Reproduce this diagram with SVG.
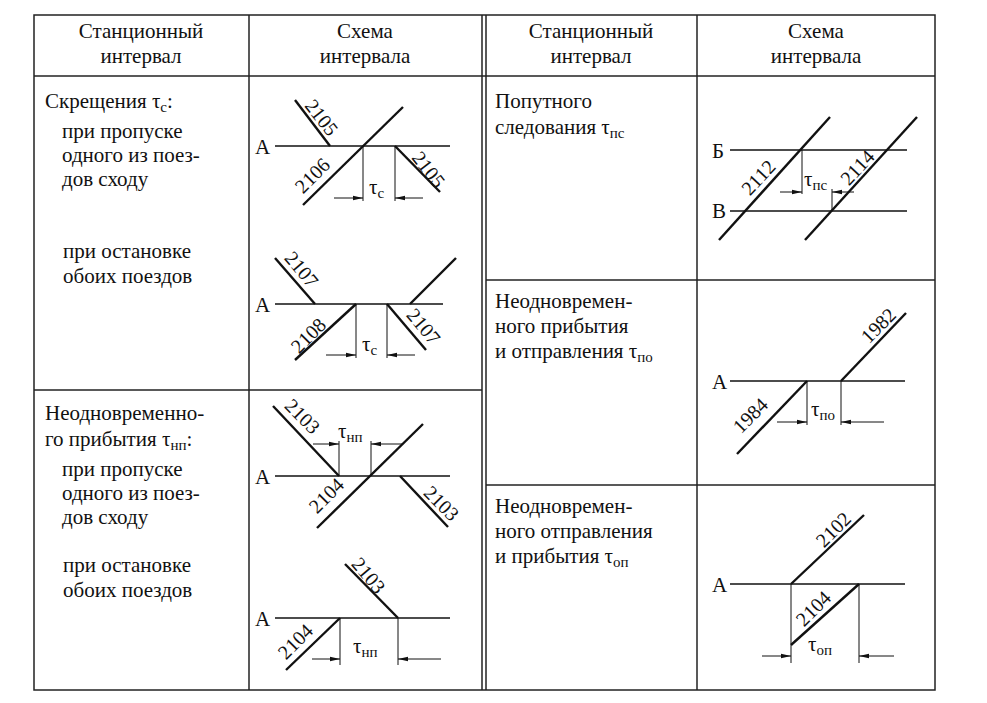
<svg xmlns="http://www.w3.org/2000/svg" width="987" height="703" viewBox="0 0 987 703" font-family="'Liberation Serif','DejaVu Serif',serif">
<style>
text{font-family:'Liberation Serif','DejaVu Serif',serif;font-size:21px;fill:#111}
.h{text-anchor:middle}
.n{font-size:20px;text-anchor:middle}
.s{font-size:15px}
.g{fill:none;stroke:#111;stroke-width:1.4}
.t{fill:none;stroke:#111;stroke-width:2.4}
.b{fill:none;stroke:#222;stroke-width:1.5}
.d{fill:none;stroke:#111;stroke-width:1}
</style>
<defs>
<marker id="ar" markerWidth="10" markerHeight="6" refX="10" refY="3" orient="auto" markerUnits="userSpaceOnUse"><path d="M0,0.8 L10,3 L0,5.2z" fill="#111"/></marker>
</defs>
<rect width="987" height="703" fill="#fff"/>
<g id="table" class="b">
<rect x="34" y="15" width="901" height="675"/>
<line x1="34" y1="76" x2="935" y2="76"/>
<line x1="249" y1="15" x2="249" y2="690"/>
<line x1="482" y1="15" x2="482" y2="690"/>
<line x1="486" y1="15" x2="486" y2="690"/>
<line x1="697" y1="15" x2="697" y2="690"/>
<line x1="34" y1="390" x2="482" y2="390"/>
<line x1="486" y1="280" x2="935" y2="280"/>
<line x1="486" y1="485" x2="935" y2="485"/>
</g>
<g id="headers">
<text class="h" x="141" y="38">Станционный</text><text class="h" x="141" y="63">интервал</text>
<text class="h" x="365" y="38">Схема</text><text class="h" x="365" y="63">интервала</text>
<text class="h" x="591" y="38">Станционный</text><text class="h" x="591" y="63">интервал</text>
<text class="h" x="816" y="38">Схема</text><text class="h" x="816" y="63">интервала</text>
</g>
<g id="text-left">
<text x="45" y="108">Скрещения τ<tspan class="s" dy="4">с</tspan><tspan dy="-4">:</tspan></text>
<text x="62" y="138">при пропуске</text>
<text x="62" y="162">одного из поез-</text>
<text x="62" y="186">дов сходу</text>
<text x="63" y="258">при остановке</text>
<text x="63" y="283">обоих поездов</text>
<text x="45" y="420">Неодновременно-</text>
<text x="45" y="446">го прибытия τ<tspan class="s" dy="4">нп</tspan><tspan dy="-4">:</tspan></text>
<text x="62" y="476">при пропуске</text>
<text x="62" y="500">одного из поез-</text>
<text x="62" y="524">дов сходу</text>
<text x="63" y="572">при остановке</text>
<text x="63" y="597">обоих поездов</text>
</g>
<g id="text-right">
<text x="495" y="108">Попутного</text>
<text x="495" y="134">следования τ<tspan class="s" dy="4">пс</tspan></text>
<text x="495" y="308">Неодновремен-</text>
<text x="495" y="333">ного прибытия</text>
<text x="495" y="358">и отправления τ<tspan class="s" dy="4">по</tspan></text>
<text x="495" y="513">Неодновремен-</text>
<text x="495" y="538">ного отправления</text>
<text x="495" y="563">и прибытия  τ<tspan class="s" dy="4">оп</tspan></text>
</g>
<g id="scheme-c1">
<text x="255" y="154">А</text>
<line class="g" x1="275" y1="146" x2="450" y2="146"/>
<line class="t" x1="295" y1="100" x2="330" y2="146"/>
<line class="t" x1="303" y1="205" x2="403" y2="107"/>
<line class="t" x1="395" y1="146" x2="440" y2="192"/>
<line class="d" x1="363" y1="146" x2="363" y2="201"/>
<line class="d" x1="395" y1="146" x2="395" y2="201"/>
<line class="d" x1="334" y1="198" x2="363" y2="198" marker-end="url(#ar)"/>
<line class="d" x1="423" y1="198" x2="395" y2="198" marker-end="url(#ar)"/>
<text x="369" y="194">τ<tspan class="s" dy="4">с</tspan></text>
<text class="n" transform="translate(321,118) rotate(52)" y="6">2105</text>
<text class="n" transform="translate(313,176) rotate(-45)" y="6">2106</text>
<text class="n" transform="translate(428,170) rotate(52)" y="6">2105</text>
</g>
<g id="scheme-c2">
<text x="255" y="312">А</text>
<line class="g" x1="275" y1="304" x2="443" y2="304"/>
<line class="t" x1="275" y1="258" x2="315" y2="304"/>
<line class="t" x1="295" y1="360" x2="356" y2="304"/>
<line class="t" x1="387" y1="304" x2="426" y2="350"/>
<line class="t" x1="410" y1="304" x2="456" y2="258"/>
<line class="d" x1="356" y1="304" x2="356" y2="358"/>
<line class="d" x1="387" y1="304" x2="387" y2="358"/>
<line class="d" x1="326" y1="355" x2="356" y2="355" marker-end="url(#ar)"/>
<line class="d" x1="415" y1="355" x2="387" y2="355" marker-end="url(#ar)"/>
<text x="362" y="351">τ<tspan class="s" dy="4">с</tspan></text>
<text class="n" transform="translate(301,270) rotate(50)" y="6">2107</text>
<text class="n" transform="translate(309,336) rotate(-45)" y="6">2108</text>
<text class="n" transform="translate(423,327) rotate(50)" y="6">2107</text>
</g>
<g id="scheme-np1">
<text x="255" y="484">А</text>
<line class="g" x1="275" y1="476" x2="450" y2="476"/>
<line class="t" x1="273" y1="406" x2="339" y2="476"/>
<line class="t" x1="317" y1="528" x2="423" y2="424"/>
<line class="t" x1="400" y1="476" x2="448" y2="527"/>
<line class="d" x1="339" y1="441" x2="339" y2="476"/>
<line class="d" x1="371" y1="441" x2="371" y2="476"/>
<line class="d" x1="313" y1="444" x2="339" y2="444" marker-end="url(#ar)"/>
<line class="d" x1="402" y1="444" x2="371" y2="444" marker-end="url(#ar)"/>
<text x="338" y="438">τ<tspan class="s" dy="4">нп</tspan></text>
<text class="n" transform="translate(302,417) rotate(45)" y="6">2103</text>
<text class="n" transform="translate(327,496) rotate(-45)" y="6">2104</text>
<text class="n" transform="translate(441,504) rotate(45)" y="6">2103</text>
</g>
<g id="scheme-np2">
<text x="255" y="626">А</text>
<line class="g" x1="275" y1="618" x2="450" y2="618"/>
<line class="t" x1="286" y1="670" x2="340" y2="618"/>
<line class="t" x1="345" y1="564" x2="398" y2="618"/>
<line class="d" x1="340" y1="618" x2="340" y2="665"/>
<line class="d" x1="398" y1="618" x2="398" y2="665"/>
<line class="d" x1="312" y1="659" x2="340" y2="659" marker-end="url(#ar)"/>
<line class="d" x1="441" y1="659" x2="398" y2="659" marker-end="url(#ar)"/>
<text x="353" y="653">τ<tspan class="s" dy="4">нп</tspan></text>
<text class="n" transform="translate(368,576) rotate(50)" y="6">2103</text>
<text class="n" transform="translate(296,642) rotate(-45)" y="6">2104</text>
</g>
<g id="scheme-pc">
<text x="712" y="158">Б</text>
<text x="712" y="218">В</text>
<line class="g" x1="730" y1="150" x2="907" y2="150"/>
<line class="g" x1="730" y1="211" x2="907" y2="211"/>
<line class="t" x1="719" y1="240" x2="830" y2="117"/>
<line class="t" x1="805" y1="240" x2="917" y2="117"/>
<line class="d" x1="802" y1="150" x2="802" y2="194"/>
<line class="d" x1="832" y1="189" x2="832" y2="211"/>
<line class="d" x1="780" y1="192" x2="802" y2="192" marker-end="url(#ar)"/>
<line class="d" x1="854" y1="192" x2="832" y2="192" marker-end="url(#ar)"/>
<text x="804" y="186">τ<tspan class="s" dy="4">пс</tspan></text>
<text class="n" transform="translate(759,178) rotate(-47)" y="6">2112</text>
<text class="n" transform="translate(858,168) rotate(-47)" y="6">2114</text>
</g>
<g id="scheme-po">
<text x="712" y="389">А</text>
<line class="g" x1="730" y1="381" x2="905" y2="381"/>
<line class="t" x1="737" y1="454" x2="807" y2="381"/>
<line class="t" x1="841" y1="381" x2="906" y2="313"/>
<line class="d" x1="807" y1="381" x2="807" y2="425"/>
<line class="d" x1="841" y1="381" x2="841" y2="425"/>
<line class="d" x1="777" y1="422" x2="807" y2="422" marker-end="url(#ar)"/>
<line class="d" x1="884" y1="422" x2="841" y2="422" marker-end="url(#ar)"/>
<text x="811" y="416">τ<tspan class="s" dy="4">по</tspan></text>
<text class="n" transform="translate(751,416) rotate(-45)" y="6">1984</text>
<text class="n" transform="translate(879,326) rotate(-45)" y="6">1982</text>
</g>
<g id="scheme-op">
<text x="712" y="592">А</text>
<line class="g" x1="730" y1="584" x2="905" y2="584"/>
<line class="t" x1="791" y1="584" x2="864" y2="515"/>
<line class="t" x1="791" y1="645" x2="859" y2="584"/>
<line class="d" x1="791" y1="584" x2="791" y2="663"/>
<line class="d" x1="859" y1="584" x2="859" y2="663"/>
<line class="d" x1="762" y1="656" x2="791" y2="656" marker-end="url(#ar)"/>
<line class="d" x1="894" y1="656" x2="859" y2="656" marker-end="url(#ar)"/>
<text x="808" y="651">τ<tspan class="s" dy="4">оп</tspan></text>
<text class="n" transform="translate(834,530) rotate(-45)" y="6">2102</text>
<text class="n" transform="translate(814,609) rotate(-45)" y="6">2104</text>
</g>
</svg>
